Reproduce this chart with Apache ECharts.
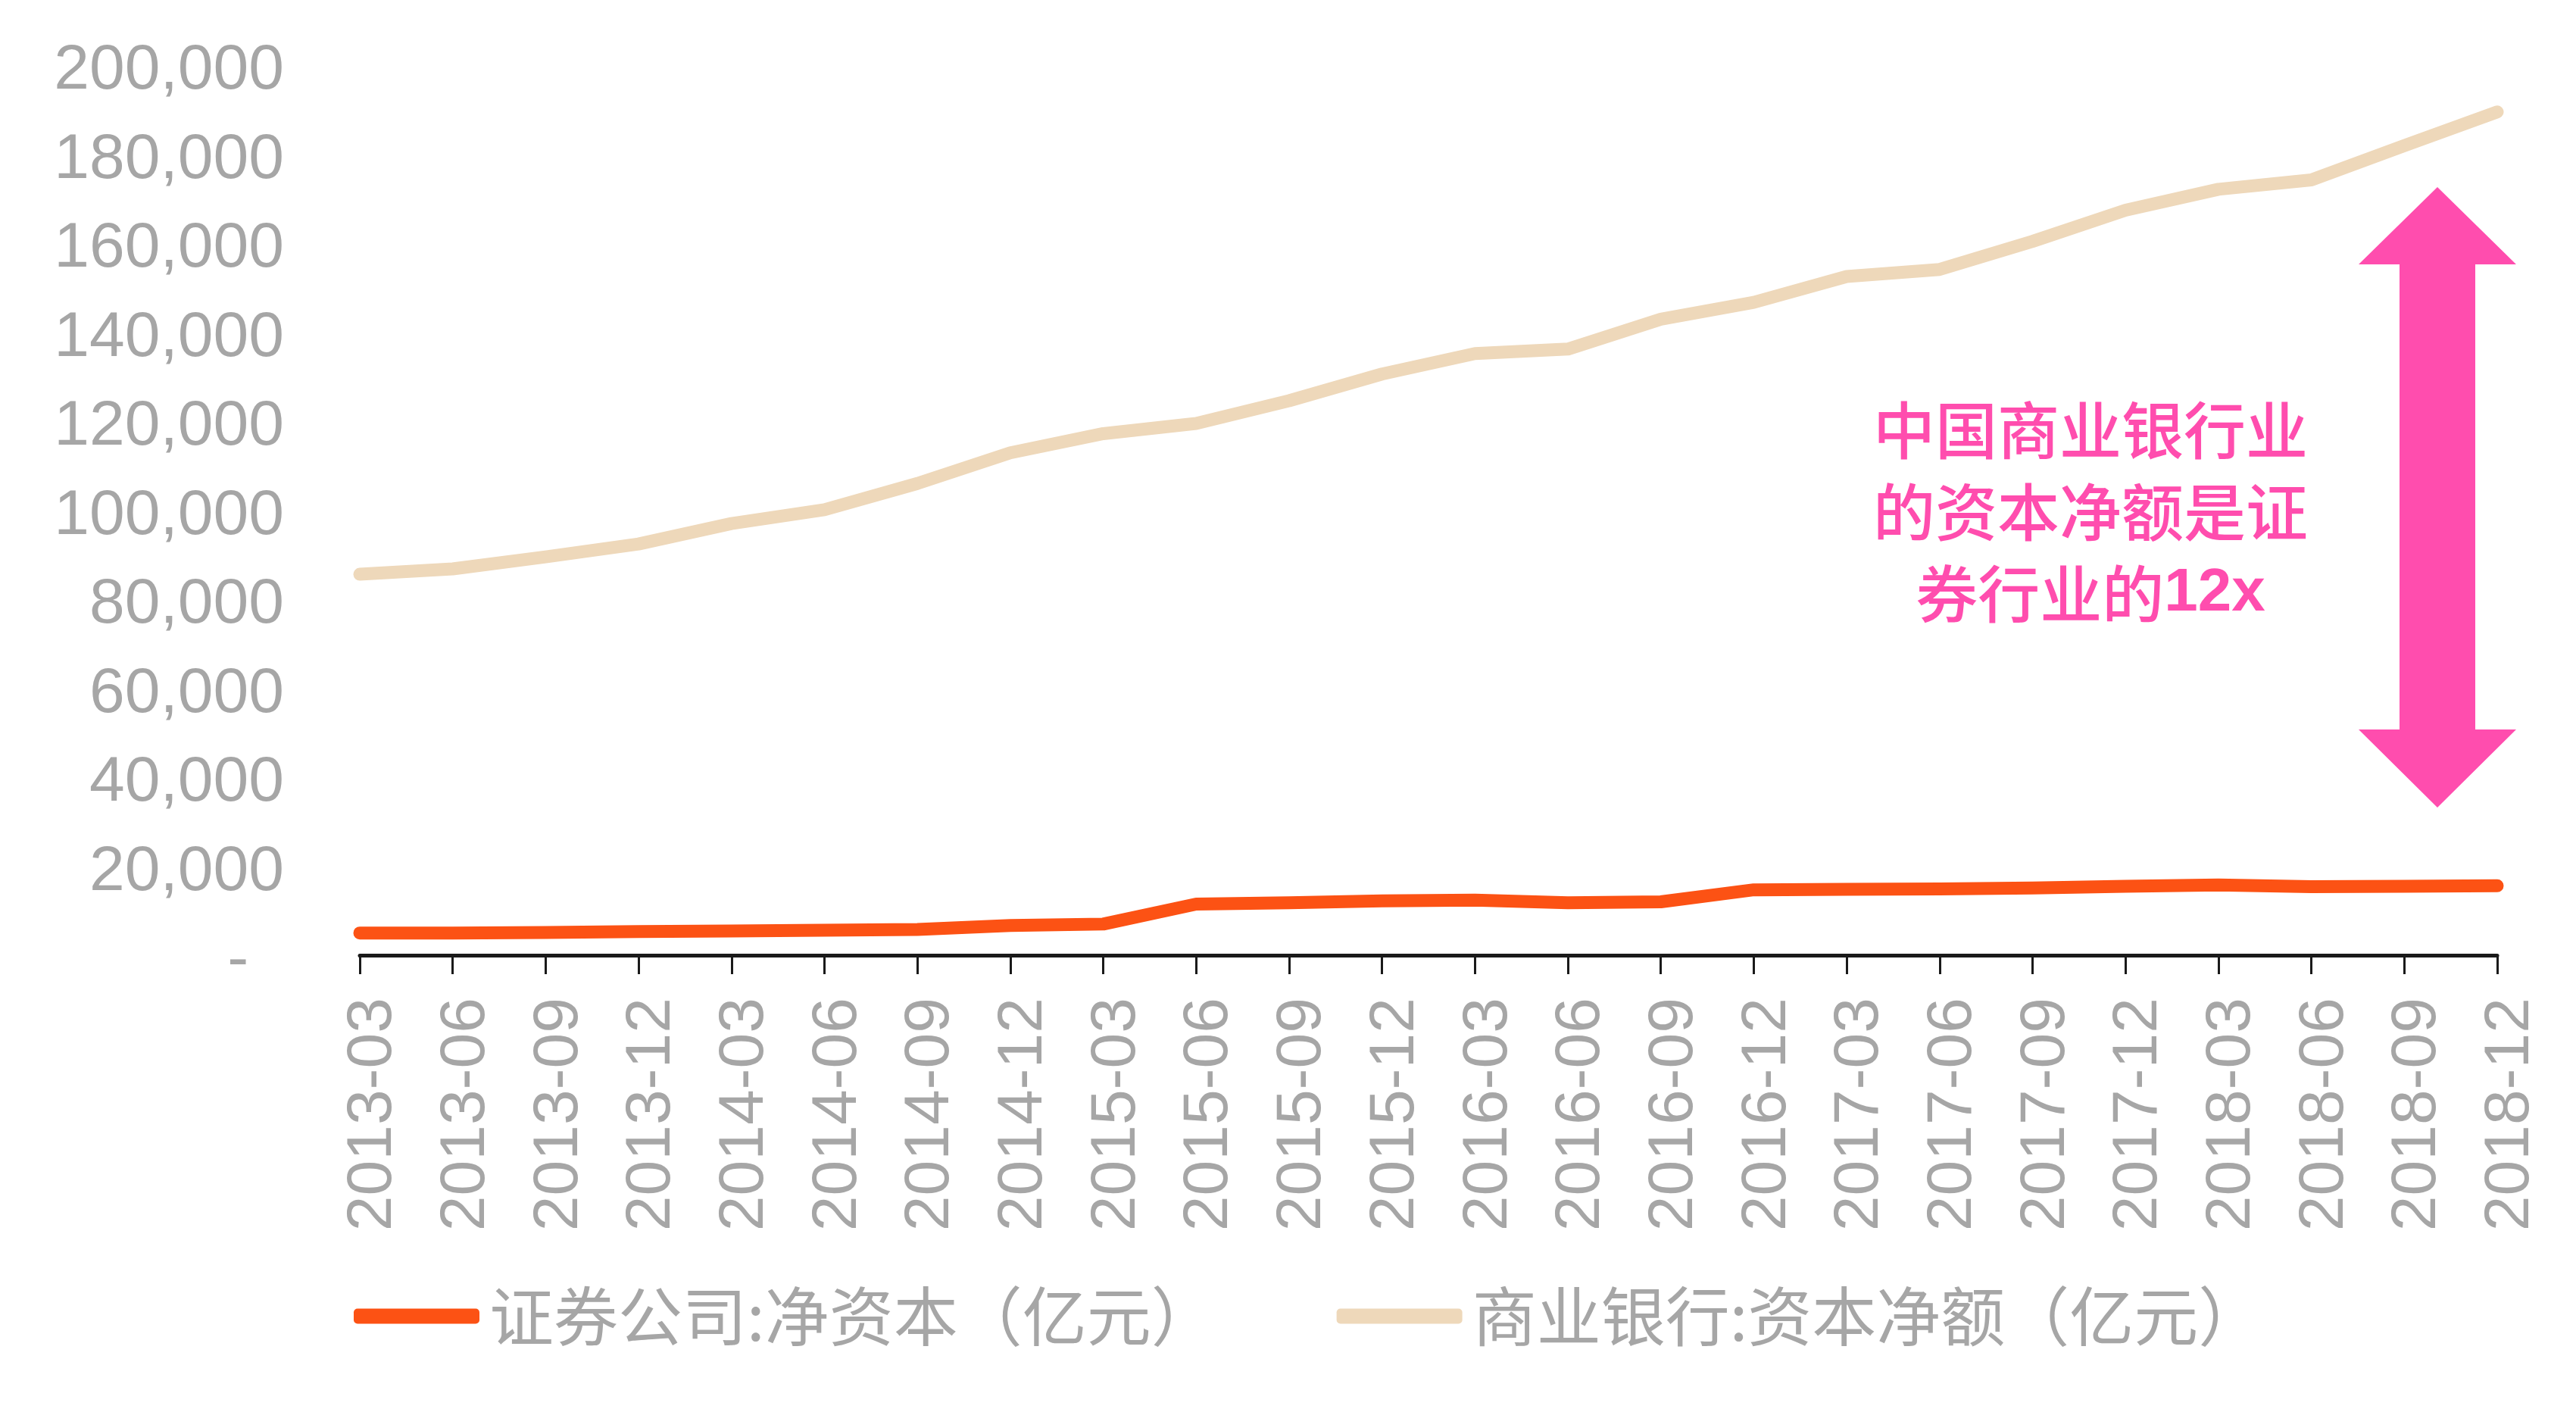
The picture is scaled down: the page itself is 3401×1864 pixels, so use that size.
<!DOCTYPE html>
<html>
<head>
<meta charset="utf-8">
<script src="https://cdn.jsdelivr.net/npm/echarts@6/dist/echarts.min.js"></script>
<style>
html,body{margin:0;padding:0;background:#fff;}
#c{width:3401px;height:1864px;}
</style>
</head>
<body>
<div id="c"></div>
<script>
const categories = ['2013-03','2013-06','2013-09','2013-12','2014-03','2014-06','2014-09','2014-12',
  '2015-03','2015-06','2015-09','2015-12','2016-03','2016-06','2016-09','2016-12',
  '2017-03','2017-06','2017-09','2017-12','2018-03','2018-06','2018-09','2018-12'];
const securitiesNetCapital = [5000,5000,5100,5300,5450,5600,5800,6700,7000,11500,11800,12200,
  12400,11800,12000,14700,14800,14900,15100,15500,15800,15400,15500,15600];
const bankNetCapital = [85600,86800,89500,92400,97000,100100,106000,112900,117200,119500,124600,130600,
  135200,136200,142900,146700,152500,154100,160400,167400,172100,174200,181900,189500];
const seriesNames = ['证券公司:净资本（亿元）','商业银行:资本净额（亿元）'];
const annotationText = '中国商业银行业\n的资本净额是证\n券行业的{b|12x}';

const chart = echarts.init(document.getElementById('c'));
const gray = '#A6A6A6';
const pink = '#FF4DAE';
const tickFont = {color: gray, fontSize: 84, fontFamily: 'Liberation Sans, Arial'};
chart.setOption({
  backgroundColor: '#ffffff',
  animation: false,
  grid: {left: 475, right: 104, top: 86, bottom: 603},
  legend: {
    left: 462, top: 1690,
    itemWidth: 166, itemHeight: 20, itemGap: 160,
    icon: 'roundRect',
    textStyle: {color: gray, fontSize: 85, fontFamily: 'Noto Sans CJK SC', padding: [0,0,0,8]},
    data: seriesNames
  },
  xAxis: {
    type: 'category', data: categories, boundaryGap: false,
    axisLine: {lineStyle: {color: '#1a1a1a', width: 5}},
    axisTick: {show: true, length: 25, lineStyle: {color: '#1a1a1a', width: 3}},
    axisLabel: {rotate: 90, interval: 0, margin: 56, color: gray, fontSize: 84,
      fontFamily: 'Liberation Sans, Arial',
      formatter: v => '{a|' + v + '}',
      rich: {a: Object.assign({padding: [36,0,0,0]}, tickFont)}}
  },
  yAxis: {
    type: 'value', min: 0, max: 200000, interval: 20000,
    axisLine: {show: false}, axisTick: {show: false}, splitLine: {show: false},
    axisLabel: {margin: 100, color: gray, fontSize: 84, fontFamily: 'Liberation Sans, Arial',
      formatter: v => '{a|' + (v === 0 ? '-  ' : v.toLocaleString('en-US')) + '}',
      rich: {a: Object.assign({padding: [16,0,0,0]}, tickFont)}}
  },
  series: [
    {name: seriesNames[0], type: 'line', data: securitiesNetCapital, symbol: 'none', z: 3,
     itemStyle: {color: '#FC5214'},
     lineStyle: {color: '#FC5214', width: 17, cap: 'round', join: 'round'}},
    {name: seriesNames[1], type: 'line', data: bankNetCapital, symbol: 'none', z: 2,
     itemStyle: {color: '#EED8BA'},
     lineStyle: {color: '#EED8BA', width: 17, cap: 'round', join: 'round'}}
  ],
  graphic: [
    {type: 'polygon', z: 10,
     shape: {points: [[3218,247],[3322,349],[3268,349],[3268,963],[3322,963],[3218,1066],
                      [3114,963],[3168,963],[3168,349],[3114,349]]},
     style: {fill: pink}},
    {type: 'text', z: 10, x: 2760, y: 514,
     style: {text: annotationText, fill: pink, fontSize: 82, lineHeight: 108,
       fontFamily: 'Noto Sans CJK SC', fontWeight: 500, align: 'center', verticalAlign: 'top',
       rich: {b: {fill: pink, fontSize: 80, fontWeight: 'bold', fontFamily: 'Liberation Sans, Arial', lineHeight: 108}}}}
  ]
});
</script>
</body>
</html>
